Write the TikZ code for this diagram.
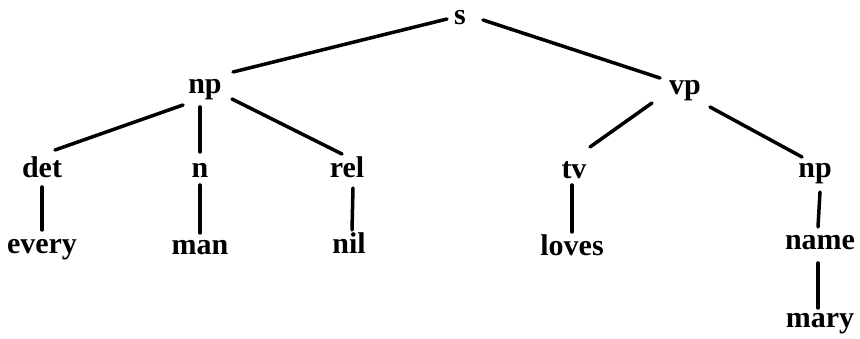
\documentclass[tikz,border=0pt]{standalone}
\usepackage{fontspec}
\setmainfont{Liberation Serif}
\usetikzlibrary{calc}
\tikzset{
  lbl/.style={anchor=base, inner sep=0pt, font=\fontsize{30}{33}\selectfont\bfseries},
  edge/.style={line width=3.5pt, line cap=round}
}
\begin{document}
\begin{tikzpicture}[x=1pt,y=-1pt]
\useasboundingbox[fill=white] (0,0) rectangle (860,339);
\node[lbl] (s) at (460,25) {s};
\node[lbl] (np) at (205,94) {np};
\node[lbl] (vp) at (685,95) {vp};
\node[lbl] (det) at (42,178) {det};
\node[lbl] (n) at (200,178) {n};
\node[lbl] (rel) at (347,178) {rel};
\node[lbl] (tv) at (574,179) {tv};
\node[lbl] (np2) at (815,178) {np};
\node[lbl] (every) at (42,254) {every};
\node[lbl] (man) at (200,255) {man};
\node[lbl] (nil) at (349,254) {nil};
\node[lbl] (loves) at (572,256) {loves};
\node[lbl] (name) at (820,250) {name};
\node[lbl] (mary) at (820,327) {mary};
\draw[edge] ($(s.base)+(-13,-6)$) -- ($(np.base)+(28,-22)$);
\draw[edge] ($(s.base)+(23,-5)$) -- ($(vp.base)+(-25,-17)$);
\draw[edge] ($(np.base)+(-22,11)$) -- ($(det.base)+(13,-28)$);
\draw[edge] ($(np.base)+(-5,13)$) -- ($(n.base)+(0,-26)$);
\draw[edge] ($(np.base)+(27,5)$) -- ($(rel.base)+(-5,-24)$);
\draw[edge] ($(det.base)+(0,9)$) -- ($(every.base)+(0,-24)$);
\draw[edge] ($(n.base)+(0,7)$) -- ($(man.base)+(0,-22)$);
\draw[edge] ($(rel.base)+(6,10)$) -- ($(nil.base)+(3,-24)$);
\draw[edge] ($(vp.base)+(-33,8)$) -- ($(tv.base)+(16,-32)$);
\draw[edge] ($(vp.base)+(25,12)$) -- ($(np2.base)+(-13,-21)$);
\draw[edge] ($(tv.base)+(-2,6)$) -- ($(loves.base)+(0,-24)$);
\draw[edge] ($(np2.base)+(5,14)$) -- ($(name.base)+(-2,-23)$);
\draw[edge] ($(name.base)+(-2,13)$) -- ($(mary.base)+(-2,-19)$);
\end{tikzpicture}
\end{document}
